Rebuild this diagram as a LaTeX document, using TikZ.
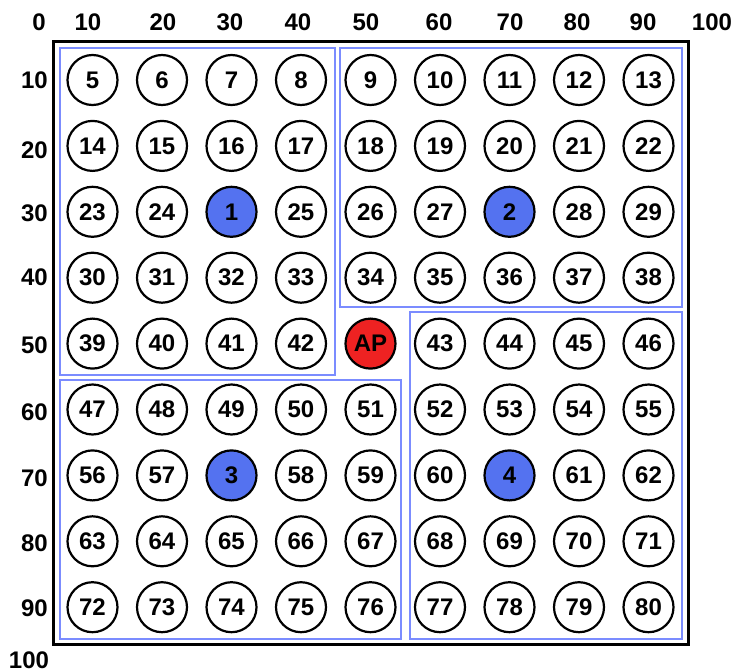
\documentclass[tikz,border=0pt]{standalone}
\usepackage{fontspec}
\setmainfont{Liberation Sans}
\usepackage{xcolor}
\definecolor{regionblue}{HTML}{7B8CFF}
\definecolor{headblue}{HTML}{5472F0}
\definecolor{apred}{HTML}{EE2222}

\begin{document}
\begin{tikzpicture}[
  x=1pt, y=-1pt,
  font=\fontsize{24}{28}\selectfont\bfseries,
  sensor/.style={circle, draw, line width=2.2pt, minimum size=50pt,
                 inner sep=0pt, fill=white},
  headnode/.style={sensor, fill=headblue},
  apnode/.style={sensor, fill=apred},
  region/.style={draw=regionblue, line width=1.2pt},
  field/.style={draw, line width=3pt},
  ticklbl/.style={inner sep=0pt}
]
\useasboundingbox (0,0) rectangle (734,672);

% ---------------- Axis labels ----------------
\foreach \v/\px in {0/39,10/88,20/163,30/230,40/298,50/366,60/439,
                    70/510,80/577,90/643,100/712}
  \node[ticklbl] (xt\v) at (\px,22) {\v};
\foreach \v/\py in {10/80,20/150,30/213,40/277,50/345,60/412,
                    70/478,80/543,90/608}
  \node[ticklbl, anchor=east] (yt\v) at (48,\py) {\v};
\node[ticklbl] (yt100) at (29,660) {100};

% ---------------- Field and clusters ----------------
\draw[field] (53,41) rectangle (688,644);
\draw[region] (60,48)   rectangle (335,375);
\draw[region] (340,48)  rectangle (682,307);
\draw[region] (60,380)  rectangle (401,639);
\draw[region] (410,312) rectangle (682,639);

% ---------------- Sensor nodes (heads 1--4, AP in the middle) ----------------
\foreach \lbl [count=\k from 0] in {
   5, 6, 7, 8, 9,10,11,12,13,
  14,15,16,17,18,19,20,21,22,
  23,24, 1,25,26,27, 2,28,29,
  30,31,32,33,34,35,36,37,38,
  39,40,41,42,AP,43,44,45,46,
  47,48,49,50,51,52,53,54,55,
  56,57, 3,58,59,60, 4,61,62,
  63,64,65,66,67,68,69,70,71,
  72,73,74,75,76,77,78,79,80}
{
  \pgfmathtruncatemacro\c{mod(\k,9)}
  \pgfmathtruncatemacro\r{div(\k,9)}
  \ifnum\k=40 \def\sty{apnode}\else
    \ifnum\lbl<5 \def\sty{headnode}\else\def\sty{sensor}\fi
  \fi
  \node[\sty] (s\lbl) at ({92.5+69.5*\c},{80+65.9*\r}) {\lbl};
}

\end{tikzpicture}
\end{document}
